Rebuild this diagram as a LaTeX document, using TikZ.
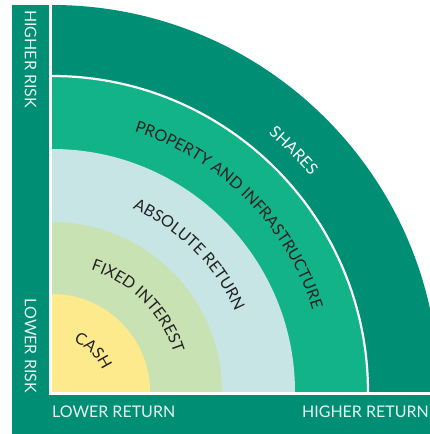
\documentclass[tikz,border=0pt]{standalone}
\usepackage{fontspec}
\setmainfont{Lato}
\usetikzlibrary{decorations.text}
\definecolor{sharesc}{HTML}{008F74}
\definecolor{propc}{HTML}{13B38A}
\definecolor{absc}{HTML}{C6E5E4}
\definecolor{fixc}{HTML}{C9E2B4}
\definecolor{cashc}{HTML}{FDEA8C}
\definecolor{labc}{HTML}{222222}
\definecolor{barlab}{HTML}{E6F4F0}
\tikzset{
  barlabel/.style={text=barlab, font=\fontsize{16}{16}\selectfont, inner sep=0pt},
  arclabel/.style={decorate, decoration={text along path, text align=center, text color=#1}},
}
\begin{document}
\begin{tikzpicture}[x=1pt,y=1pt]
\useasboundingbox (0,0) rectangle (430,434);
\fill[white] (0,0) rectangle (430,434);
\coordinate (O) at (52,42);
\begin{scope}
\clip (0,0) rectangle (430,434);
\fill[sharesc] (O) -- ([yshift=387]O) arc[start angle=90,end angle=0,radius=387] -- cycle;
\end{scope}
\fill[propc] (O) -- ([yshift=315]O) arc[start angle=90,end angle=0,radius=315] -- cycle;
\draw[white, line width=2.2] ([yshift=316]O) arc[start angle=90,end angle=0,radius=316];
\fill[absc] (O) -- ([yshift=243]O) arc[start angle=90,end angle=0,radius=243] -- cycle;
\fill[fixc] (O) -- ([yshift=170]O) arc[start angle=90,end angle=0,radius=170] -- cycle;
\fill[cashc] (O) -- ([yshift=98]O) arc[start angle=90,end angle=0,radius=98] -- cycle;
% bars
\fill[sharesc] (12,0) rectangle (49,429);
\fill[sharesc] (12,0) rectangle (430,39);
% arc labels
\path[decorate, decoration={text along path, text align=center, text color=white, text={|\fontsize{16}{16}\selectfont|SHARES}}]
  ([yshift=337]O) arc[start angle=90,end angle=0,radius=337];
\path[decorate, decoration={text along path, text align=center, text color=labc, text={|\fontsize{16}{16}\selectfont|PROPERTY AND INFRASTRUCTURE}}]
  ([yshift=273]O) arc[start angle=90,end angle=0,radius=273];
\path[decorate, decoration={text along path, text align=center, text color=labc, text={|\fontsize{16}{16}\selectfont|ABSOLUTE RETURN}}]
  ([yshift=200]O) arc[start angle=90,end angle=0,radius=200];
\path[decorate, decoration={text along path, text align=center, text color=labc, text={|\fontsize{16}{16}\selectfont|FIXED INTEREST}}]
  ([yshift=128]O) arc[start angle=90,end angle=0,radius=128];
\path[decorate, decoration={text along path, text align=center, text color=labc, text={|\fontsize{16}{16}\selectfont|CASH}}]
  ([yshift=55]O) arc[start angle=90,end angle=0,radius=55];
% bar labels
\node[barlabel, rotate=-90, anchor=west] (hrisk) at (30.5,424) {HIGHER RISK};
\node[barlabel, rotate=-90, anchor=east] (lrisk) at (30.5,41) {LOWER RISK};
\node[barlabel, anchor=west] (lret) at (52,22) {LOWER RETURN};
\node[barlabel, anchor=east] (hret) at (429,22) {HIGHER RETURN};
\end{tikzpicture}
\end{document}
